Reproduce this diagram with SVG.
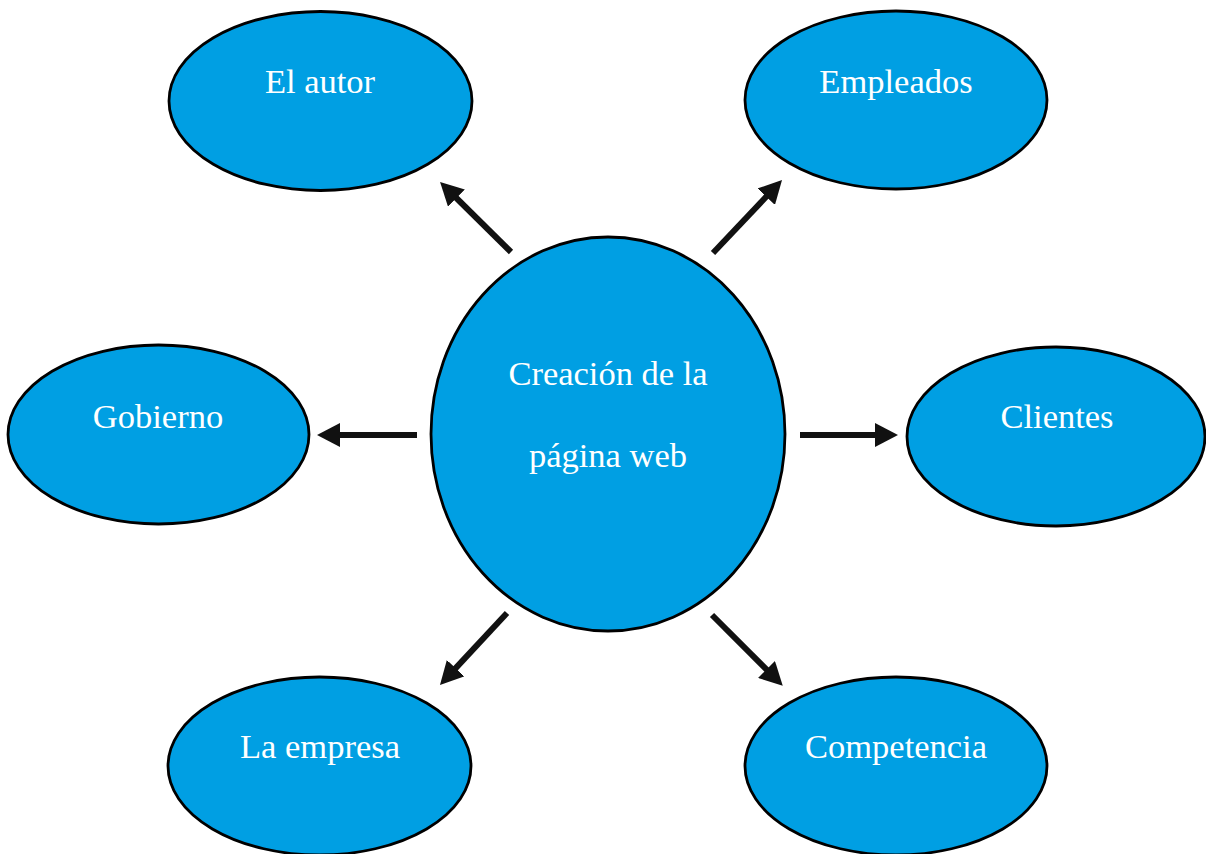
<svg xmlns="http://www.w3.org/2000/svg" width="1206" height="854" viewBox="0 0 1206 854">
<style>
.node ellipse{fill:#009FE3;stroke:#000;stroke-width:2.8}
.node text{font-family:"Liberation Serif","Times New Roman",serif;font-size:34.5px;fill:#fff;text-anchor:middle}
.conn line{stroke:#111;stroke-width:6;fill:none;marker-end:url(#ah)}
</style>
<defs>
<marker id="ah" markerUnits="userSpaceOnUse" markerWidth="24" markerHeight="24" refX="3" refY="12" orient="auto" viewBox="0 0 24 24">
<path d="M0,0 L23,12 L0,24 z" fill="#111"/>
</marker>
</defs>
<rect width="1206" height="854" fill="#fff"/>
<g id="connectors" class="conn">
<line x1="511" y1="252" x2="454.3" y2="196"/>
<line x1="713" y1="253" x2="768.3" y2="194.5"/>
<line x1="417" y1="435" x2="337" y2="435"/>
<line x1="800" y1="435" x2="878" y2="435"/>
<line x1="507" y1="613" x2="453.6" y2="670.4"/>
<line x1="712" y1="615" x2="768.6" y2="671.6"/>
</g>
<g id="center" class="node">
<ellipse cx="608" cy="434" rx="177" ry="197"/>
<text x="608" y="385">Creación de la</text>
<text x="608" y="467">página web</text>
</g>
<g id="el-autor" class="node">
<ellipse cx="320.5" cy="101" rx="151.5" ry="89.5"/>
<text x="320" y="93">El autor</text>
</g>
<g id="empleados" class="node">
<ellipse cx="896" cy="100" rx="151" ry="89"/>
<text x="896" y="93">Empleados</text>
</g>
<g id="gobierno" class="node">
<ellipse cx="158.5" cy="434.5" rx="150.5" ry="89.5"/>
<text x="158" y="428">Gobierno</text>
</g>
<g id="clientes" class="node">
<ellipse cx="1056" cy="436.5" rx="149" ry="89.5"/>
<text x="1057" y="428">Clientes</text>
</g>
<g id="la-empresa" class="node">
<ellipse cx="319.5" cy="766" rx="151.5" ry="89"/>
<text x="320" y="758">La empresa</text>
</g>
<g id="competencia" class="node">
<ellipse cx="896" cy="766" rx="151" ry="89"/>
<text x="896" y="758">Competencia</text>
</g>
</svg>
